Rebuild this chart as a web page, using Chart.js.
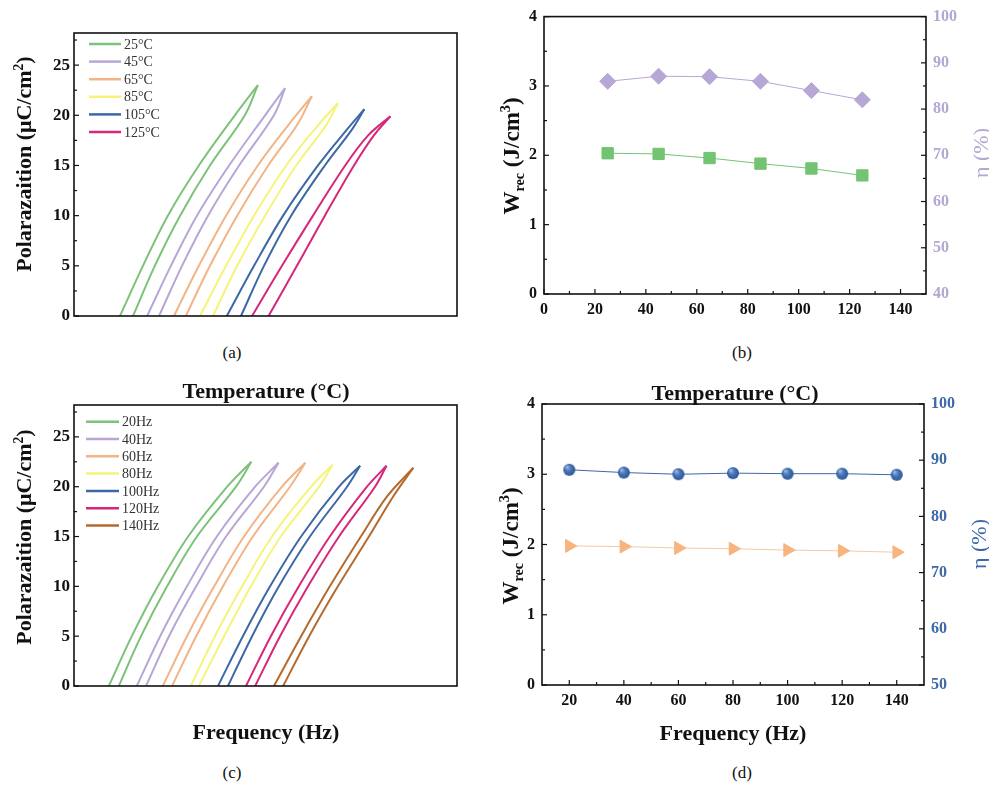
<!DOCTYPE html>
<html>
<head>
<meta charset="utf-8">
<script src="https://cdn.jsdelivr.net/npm/chart.js@4.4.1/dist/chart.umd.min.js"></script>
<style>
  body { margin: 0; width: 989px; height: 786px; background: #fff; position: relative; overflow: hidden;
         font-family: "Liberation Serif", "Times New Roman", serif; color: #111; }
  canvas { position: absolute; }
  .t { position: absolute; white-space: nowrap; transform: translate(-50%, -50%); line-height: 1; }
  .b { font-weight: bold; }
  .r { transform: translate(-50%, -50%) rotate(-90deg); }
  sup, sub { font-size: 0.62em; line-height: 0; }
</style>
</head>
<body>
<canvas id="ca" width="490" height="340" style="left:0;top:0"></canvas>
<canvas id="cb" width="499" height="340" style="left:490px;top:0"></canvas>
<canvas id="cc" width="490" height="380" style="left:0;top:370px"></canvas>
<canvas id="cd" width="499" height="370" style="left:490px;top:380px"></canvas>

<div class="t" style="left:232px;top:352px;font-size:17px">(a)</div>
<div class="t" style="left:742px;top:352px;font-size:17px">(b)</div>
<div class="t" style="left:232px;top:772px;font-size:17px">(c)</div>
<div class="t" style="left:742px;top:772px;font-size:17px">(d)</div>
<div class="t b" style="left:266px;top:391px;font-size:22px">Temperature (°C)</div>
<div class="t b" style="left:735px;top:393px;font-size:22px">Temperature (°C)</div>
<div class="t b" style="left:266px;top:732px;font-size:22px">Frequency (Hz)</div>
<div class="t b" style="left:733px;top:733px;font-size:22px">Frequency (Hz)</div>

<div class="t r b" style="left:24px;top:164px;font-size:22px">Polarazaition (μC/cm<sup>2</sup>)</div>
<div class="t r b" style="left:24px;top:537px;font-size:22px">Polarazaition (μC/cm<sup>2</sup>)</div>
<div class="t r b" style="left:511px;top:156px;font-size:23px">W<sub>rec</sub> (J/cm<sup>3</sup>)</div>
<div class="t r b" style="left:510px;top:546px;font-size:23px">W<sub>rec</sub> (J/cm<sup>3</sup>)</div>
<div class="t r" style="left:981px;top:153px;font-size:22px;color:#b4a7d2">η (%)</div>
<div class="t r" style="left:979px;top:544px;font-size:22px;color:#3d69a8">η (%)</div>

<script>
// P-E loops: [E, P] from left foot up to the tip and back down to the right foot
const tempLabels = ['25°C', '45°C', '65°C', '85°C', '105°C', '125°C'];
const tempColors = ['#7cc278', '#b7a6d6', '#f2b486', '#f6f378', '#3d68a6', '#d6277b'];
const loopT25 = [[12.0,0],[18.0,5],[24.5,10],[32.6,15],[42.0,20],[48.0,23.0],[44.6,20],[35.5,15],[27.7,10],[21.1,5],[15.4,0]];
const loopT45 = [[19.1,0],[25.3,5],[32.1,10],[40.5,15],[49.9,20],[55.1,22.7],[52.2,20],[43.1,15],[35.0,10],[28.2,5],[22.2,0]];
const loopT65 = [[26.1,0],[32.6,5],[39.7,10],[48.0,15],[55.9,19],[62.1,21.9],[58.2,19],[50.7,15],[42.6,10],[35.5,5],[29.2,0]];
const loopT85 = [[32.9,0],[39.7,5],[47.0,10],[55.4,15],[63.7,19],[68.9,21.2],[65.8,19],[58.0,15],[49.9,10],[42.6,5],[36.3,0]];
const loopT105 = [[39.9,0],[47.0,5],[54.6,10],[63.7,15],[71.3,18.6],[75.8,20.6],[72.6,18.6],[65.5,15],[56.7,10],[49.6,5],[43.6,0]];
const loopT125 = [[46.5,0],[54.3,5],[62.4,10],[70.8,15],[76.8,18],[82.6,19.9],[78.3,18],[73.1,15],[65.5,10],[58.2,5],[50.8,0]];

const freqLabels = ['20Hz', '40Hz', '60Hz', '80Hz', '100Hz', '120Hz', '140Hz'];
const freqColors = ['#7cc278', '#b7a6d6', '#f2b486', '#f6f378', '#3d68a6', '#d6277b', '#b56a2d'];
const loopF20 = [[9.1,0],[15.1,5],[21.9,10],[29.8,15],[40.0,20],[46.3,22.5],[42.3,20],[32.1,15],[24.3,10],[17.5,5],[11.7,0]];
const loopF40 = [[16.4,0],[22.5,5],[29.5,10],[37.3,15],[47.3,20],[53.4,22.4],[49.6,20],[39.7,15],[31.9,10],[24.8,5],[18.8,0]];
const loopF60 = [[23.2,0],[29.5,5],[36.6,10],[44.4,15],[54.3,20],[60.4,22.4],[56.4,20],[46.7,15],[38.9,10],[31.9,5],[25.6,0]];
const loopF80 = [[30.5,0],[36.8,5],[43.9,10],[51.7,15],[61.9,20],[67.5,22.2],[64.0,20],[54.0,15],[46.2,10],[39.2,5],[32.6,0]];
const loopF100 = [[37.6,0],[44.1,5],[51.2,10],[59.3,15],[69.2,20],[74.7,22.1],[71.3,20],[61.6,15],[53.5,10],[46.5,5],[40.2,0]];
const loopF120 = [[44.9,0],[51.4,5],[58.7,10],[66.8,15],[76.5,20],[81.6,22.1],[78.6,20],[69.2,15],[61.1,10],[53.8,5],[47.3,0]];
const loopF140 = [[52.2,0],[59.3,5],[66.8,10],[74.9,15],[81.7,19],[88.6,21.9],[83.3,19],[77.0,15],[68.9,10],[61.4,5],[54.6,0]];

// energy storage vs temperature / frequency
const tempX = [25, 45, 65, 85, 105, 125];
const wrecT = [2.03, 2.02, 1.96, 1.88, 1.81, 1.71];
const etaT = [86, 87.1, 87, 86, 84, 82];
const freqX = [20, 40, 60, 80, 100, 120, 140];
const wrecF = [1.98, 1.97, 1.95, 1.94, 1.92, 1.91, 1.89];
const etaF = [88.3, 87.8, 87.5, 87.7, 87.6, 87.6, 87.4];

// ticks
const polTicks = [0, 5, 10, 15, 20, 25];
const polMinor = [2.5, 7.5, 12.5, 17.5, 22.5, 27.5];
const wrecTicks = [0, 1, 2, 3, 4];
const wrecMinor = [0.5, 1.5, 2.5, 3.5];
const etaTicksT = [40, 50, 60, 70, 80, 90, 100];
const etaMinorT = [45, 55, 65, 75, 85, 95];
const etaTicksF = [50, 60, 70, 80, 90, 100];
const etaMinorF = [55, 65, 75, 85, 95];
const tempTicks = [0, 20, 40, 60, 80, 100, 120, 140];
const tempMinor = [10, 30, 50, 70, 90, 110, 130];
const freqTicks = [20, 40, 60, 80, 100, 120, 140];
const freqMinor = [30, 50, 70, 90, 110, 130];

Chart.defaults.font.family = '"Liberation Serif", "Times New Roman", serif';
Chart.defaults.color = '#111';

const fixTicks = arr => s => { s.ticks = arr.map(v => ({ value: v })); };

// box frame + inward major/minor tick marks
const frameTicks = {
  id: 'frameTicks',
  afterDraw(chart, args, opts) {
    const { ctx, chartArea: a, scales } = chart;
    ctx.save();
    ctx.strokeStyle = '#111';
    ctx.lineWidth = 1.6;
    ctx.strokeRect(a.left, a.top, a.right - a.left, a.bottom - a.top);
    ctx.lineWidth = 1.2;
    const mark = (id, vals, len) => {
      const s = scales[id];
      if (!s || !vals) return;
      vals.forEach(v => {
        const p = s.getPixelForValue(v);
        ctx.beginPath();
        if (id === 'x') { ctx.moveTo(p, a.bottom); ctx.lineTo(p, a.bottom - len); }
        else if (id === 'y') { ctx.moveTo(a.left, p); ctx.lineTo(a.left + len, p); }
        else { ctx.moveTo(a.right, p); ctx.lineTo(a.right - len, p); }
        ctx.stroke();
      });
    };
    Object.keys(opts.major || {}).forEach(k => mark(k, opts.major[k], 5));
    Object.keys(opts.minor || {}).forEach(k => mark(k, opts.minor[k], 3));
    ctx.restore();
  }
};

// legend drawn inside the plot area
const loopLegend = {
  id: 'loopLegend',
  afterDraw(chart, args, opts) {
    if (!opts.labels) return;
    const { ctx, chartArea: a } = chart;
    ctx.save();
    ctx.font = '14px "Liberation Serif"';
    ctx.textBaseline = 'middle';
    opts.labels.forEach((lab, i) => {
      const y = a.top + opts.top + i * opts.step;
      ctx.strokeStyle = opts.colors[i];
      ctx.lineWidth = 2.5;
      ctx.beginPath();
      ctx.moveTo(a.left + opts.x0, y);
      ctx.lineTo(a.left + opts.x1, y);
      ctx.stroke();
      ctx.fillStyle = '#333';
      ctx.fillText(lab, a.left + opts.x1 + 3, y + 1);
    });
    ctx.restore();
  }
};

function loopSets(loops, colors) {
  const sets = [];
  loops.forEach((pts, i) => {
    let tip = 0;
    pts.forEach((p, j) => { if (p[1] > pts[tip][1]) tip = j; });
    const up = pts.slice(0, tip + 1);
    const down = pts.slice(tip).reverse();
    [up, down].forEach(br => sets.push({
      data: br.map(p => ({ x: p[0], y: p[1] })),
      borderColor: colors[i],
      borderWidth: 2,
      pointRadius: 0,
      tension: 0.35,
      fill: false
    }));
  });
  return sets;
}

const noGrid = { display: false, drawTicks: false };

function loopChart(id, loops, labels, colors, pad, leg) {
  return new Chart(document.getElementById(id), {
    type: 'line',
    data: { datasets: loopSets(loops, colors) },
    options: {
      responsive: false,
      animation: false,
      layout: { padding: pad },
      plugins: {
        legend: { display: false },
        tooltip: { enabled: false },
        loopLegend: Object.assign({ labels: labels, colors: colors }, leg),
        frameTicks: { major: { y: polTicks }, minor: { y: polMinor } }
      },
      scales: {
        x: { type: 'linear', display: false, min: 0, max: 100 },
        y: {
          min: 0, max: 28.2,
          afterBuildTicks: fixTicks(polTicks),
          afterFit: s => { s.width = 74; },
          grid: noGrid,
          border: { display: false },
          ticks: { font: { size: 17, weight: 'bold' }, padding: 4 }
        }
      }
    },
    plugins: [frameTicks, loopLegend]
  });
}

loopChart('ca', [loopT25, loopT45, loopT65, loopT85, loopT105, loopT125], tempLabels, tempColors,
  { left: 0, right: 33, top: 33, bottom: 24 }, { top: 11, step: 17.6, x0: 15, x1: 47 });
loopChart('cc', [loopF20, loopF40, loopF60, loopF80, loopF100, loopF120, loopF140], freqLabels, freqColors,
  { left: 0, right: 33, top: 35, bottom: 64 }, { top: 16.7, step: 17.3, x0: 12, x1: 45 });

function sphere(r) {
  const cv = document.createElement('canvas');
  cv.width = cv.height = 2 * r + 2;
  const g = cv.getContext('2d');
  const gr = g.createRadialGradient(r * 0.75, r * 0.65, 0.5, r + 1, r + 1, r);
  gr.addColorStop(0, '#9cbbe6');
  gr.addColorStop(0.45, '#4a78b8');
  gr.addColorStop(1, '#2a5596');
  g.fillStyle = gr;
  g.beginPath();
  g.arc(r + 1, r + 1, r, 0, Math.PI * 2);
  g.fill();
  return cv;
}

function storageChart(id, xs, wrec, eta, cfg) {
  return new Chart(document.getElementById(id), {
    type: 'line',
    data: {
      datasets: [
        {
          data: xs.map((x, i) => ({ x: x, y: wrec[i] })),
          yAxisID: 'y',
          borderColor: cfg.wLine, borderWidth: 1,
          pointStyle: cfg.wStyle, pointRotation: cfg.wRot, pointRadius: cfg.wRad,
          pointBackgroundColor: cfg.wColor, pointBorderColor: cfg.wColor, tension: 0
        },
        {
          data: xs.map((x, i) => ({ x: x, y: eta[i] })),
          yAxisID: 'y2',
          borderColor: cfg.eLine, borderWidth: 1,
          pointStyle: cfg.eStyle, pointRadius: cfg.eRad,
          pointBackgroundColor: cfg.eColor, pointBorderColor: cfg.eColor, tension: 0
        }
      ]
    },
    options: {
      responsive: false,
      animation: false,
      layout: { padding: { left: 0, right: 0, top: cfg.top, bottom: 0 } },
      plugins: {
        legend: { display: false },
        tooltip: { enabled: false },
        frameTicks: {
          major: { x: cfg.xTicks, y: wrecTicks, y2: cfg.eTicks },
          minor: { x: cfg.xMinor, y: wrecMinor, y2: cfg.eMinor }
        }
      },
      scales: {
        x: {
          type: 'linear', min: cfg.xMin, max: 150,
          afterBuildTicks: fixTicks(cfg.xTicks),
          afterFit: s => { s.height = cfg.xH; },
          grid: noGrid, border: { display: false },
          ticks: { font: { size: 16, weight: 'bold' }, padding: 6, maxRotation: 0 }
        },
        y: {
          position: 'left', min: 0, max: 4,
          afterBuildTicks: fixTicks(wrecTicks),
          afterFit: s => { s.width = cfg.yW; },
          grid: noGrid, border: { display: false },
          ticks: { font: { size: 16, weight: 'bold' }, padding: 7 }
        },
        y2: {
          position: 'right', min: cfg.eMin, max: 100,
          afterBuildTicks: fixTicks(cfg.eTicks),
          afterFit: s => { s.width = cfg.y2W; },
          grid: noGrid, border: { display: false },
          ticks: { font: { size: 16, weight: 'bold' }, padding: 7, color: cfg.eAxis }
        }
      }
    },
    plugins: [frameTicks]
  });
}

storageChart('cb', tempX, wrecT, etaT, {
  top: 14, xH: 46, yW: 54, y2W: 63, xMin: 0,
  xTicks: tempTicks, xMinor: tempMinor, eMin: 40, eTicks: etaTicksT, eMinor: etaMinorT,
  wStyle: 'rect', wRot: 0, wRad: 8, wColor: '#72c472', wLine: '#72c472',
  eStyle: 'rectRot', eRad: 8, eColor: '#b6a7d6', eLine: '#b6a7d6', eAxis: '#b4a7d2'
});

storageChart('cd', freqX, wrecF, etaF, {
  top: 24, xH: 65, yW: 52, y2W: 65, xMin: 10,
  xTicks: freqTicks, xMinor: freqMinor, eMin: 50, eTicks: etaTicksF, eMinor: etaMinorF,
  wStyle: 'triangle', wRot: 90, wRad: 7.5, wColor: '#f7b47e', wLine: '#f5c9a3',
  eStyle: sphere(6), eRad: 6, eColor: '#3d68a8', eLine: '#3d68a8', eAxis: '#3d69a8'
});
</script>
</body>
</html>
